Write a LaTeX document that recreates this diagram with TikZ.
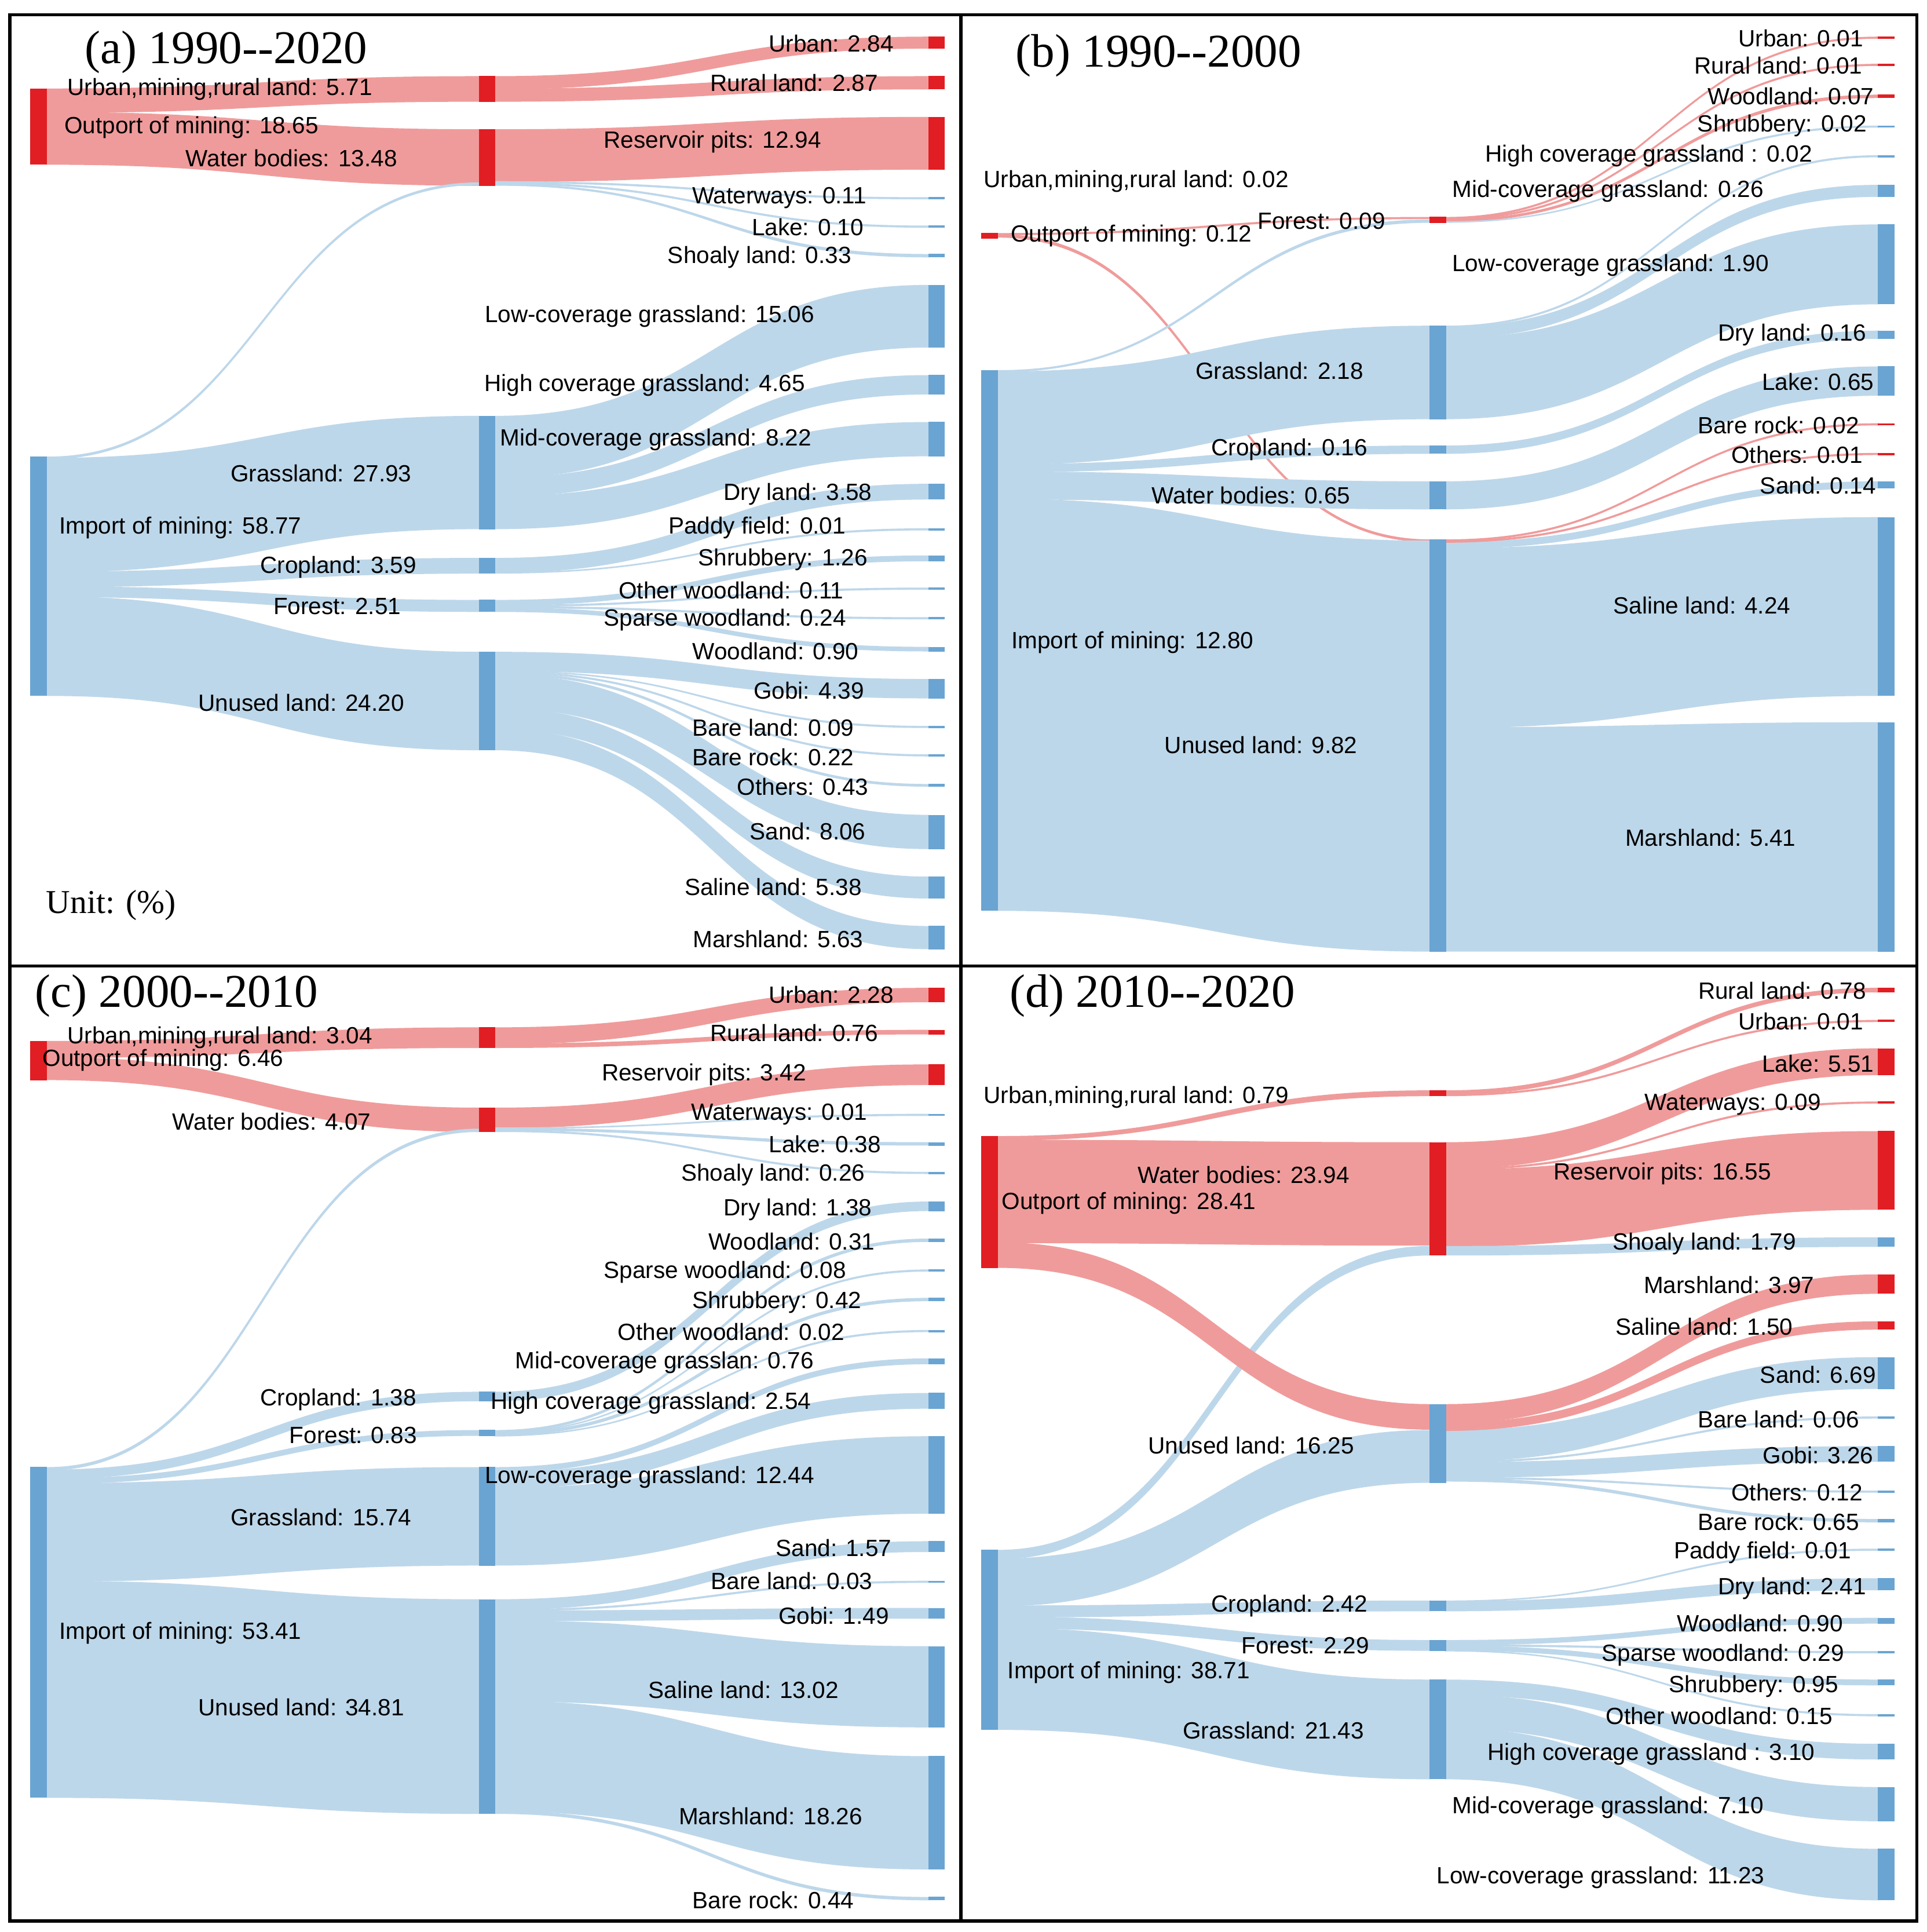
\documentclass[tikz,border=0pt]{standalone}
\usepackage{fontspec}
\setmainfont{Liberation Sans}
\newfontfamily\tnr{Liberation Serif}
\definecolor{lb}{RGB}{189,215,234}
\definecolor{db}{RGB}{106,164,210}
\definecolor{lr}{RGB}{240,155,155}
\definecolor{dr}{RGB}{225,30,35}
\tikzset{R/.style={fill=lr,draw=lr,line width=0.7},B/.style={fill=lb,draw=lb,line width=0.7},
 RB/.style={fill=dr,draw=dr,line width=0.8},BB/.style={fill=db,draw=db,line width=0.8},
 lab/.style={font=\fontsize{19}{21}\selectfont,inner sep=0pt,anchor=center},
 ttl/.style={font=\tnr\fontsize{38}{40}\selectfont,inner sep=0pt,anchor=center}}
\newcommand\fl[7]{\pgfmathsetmacro\xm{(#1+#4)/2}\path[#7] (#1,#2) .. controls (\xm,#2) and (\xm,#5) .. (#4,#5) -- (#4,#6) .. controls (\xm,#6) and (\xm,#3) .. (#1,#3) -- cycle;}
\newcommand\bx[4]{\path[#4] (#1,#2) rectangle (#1+12.5,#3);}
\newcommand\lb[4]{\node[lab] (#1) at (#2,#3) {#4};}
\begin{document}
\begin{tikzpicture}[x=1pt,y=-1pt]
\useasboundingbox[fill=white] (0,0) rectangle (1560,1564);
% ================= (a)
\fl{38}{72}{91}{388}{62}{82}{R}
\fl{38}{91}{133}{388}{105}{150}{R}
\fl{38}{370}{371.5}{388}{148}{149.5}{B}
\fl{38}{371}{463}{388}{337}{428}{B}
\fl{38}{463}{475}{388}{452}{464}{B}
\fl{38}{475}{483}{388}{486}{495}{B}
\fl{38}{483}{563}{388}{528}{607}{B}
\fl{401}{62}{72}{752}{30}{39}{R}
\fl{401}{72}{82}{752}{62}{72}{R}
\fl{401}{105}{147}{752}{95}{137}{R}
\fl{401}{147}{148}{752}{160}{161}{B}
\fl{401}{148}{149}{752}{183}{184}{B}
\fl{401}{149}{150}{752}{206}{208}{B}
\fl{401}{337}{387}{752}{231}{281}{B}
\fl{401}{387}{402}{752}{304}{319}{B}
\fl{401}{402}{428}{752}{342}{369}{B}
\fl{401}{452}{463.5}{752}{392}{404}{B}
\fl{401}{463.5}{464}{752}{428}{429}{B}
\fl{401}{486}{490}{752}{450}{454}{B}
\fl{401}{490}{491}{752}{476}{477}{B}
\fl{401}{491}{492}{752}{500}{501}{B}
\fl{401}{492}{495}{752}{524}{527}{B}
\fl{401}{528}{543}{752}{550}{565}{B}
\fl{401}{543}{543.5}{752}{588}{589}{B}
\fl{401}{543.5}{544.5}{752}{611}{612}{B}
\fl{401}{544.5}{546}{752}{635}{636.5}{B}
\fl{401}{546}{573}{752}{660}{687}{B}
\fl{401}{573}{590}{752}{710}{727}{B}
\fl{401}{590}{607}{752}{750}{768}{B}
\bx{25}{72}{133}{RB}\bx{25}{370}{563}{BB}
\bx{388}{62}{82}{RB}\bx{388}{105}{150}{RB}
\bx{388}{337}{428}{BB}\bx{388}{452}{464}{BB}\bx{388}{486}{495}{BB}\bx{388}{528}{607}{BB}
\bx{752}{30}{39}{RB}\bx{752}{62}{72}{RB}\bx{752}{95}{137}{RB}
\bx{752}{160}{161}{BB}\bx{752}{183}{184}{BB}\bx{752}{206}{208}{BB}
\bx{752}{231}{281}{BB}\bx{752}{304}{319}{BB}\bx{752}{342}{369}{BB}\bx{752}{392}{404}{BB}
\bx{752}{428}{429}{BB}\bx{752}{450}{454}{BB}\bx{752}{476}{477}{BB}\bx{752}{500}{501}{BB}
\bx{752}{524}{527}{BB}\bx{752}{550}{565}{BB}\bx{752}{588}{589}{BB}\bx{752}{611}{612}{BB}
\bx{752}{635}{636.5}{BB}\bx{752}{660}{687}{BB}\bx{752}{710}{727}{BB}\bx{752}{750}{768}{BB}
\node[ttl] (ta) at (183,42) {(a) 1990--2020};
\node[ttl,font=\tnr\fontsize{27}{29}\selectfont] (unit) at (90,733) {Unit: (\%)};
\lb{a1}{673}{35}{Urban: 2.84}
\lb{a2}{643}{67}{Rural land: 2.87}
\lb{a3}{577}{115}{Reservoir pits: 12.94}
\lb{a4}{631}{160}{Waterways: 0.11}
\lb{a5}{654}{184}{Lake: 0.10}
\lb{a6}{615}{208}{Shoaly land: 0.33}
\lb{a7}{526}{256}{Low-coverage grassland: 15.06}
\lb{a8}{522}{312}{High coverage grassland: 4.65}
\lb{a9}{531}{356}{Mid-coverage grassland: 8.22}
\lb{a10}{646}{400}{Dry land: 3.58}
\lb{a11}{613}{427}{Paddy field: 0.01}
\lb{a12}{634}{453}{Shrubbery: 1.26}
\lb{a13}{592}{478}{Other woodland: 0.11}
\lb{a14}{587}{502}{Sparse woodland: 0.24}
\lb{a15}{628}{527}{Woodland: 0.90}
\lb{a16}{655}{559}{Gobi: 4.39}
\lb{a17}{626}{589}{Bare land: 0.09}
\lb{a18}{626}{613}{Bare rock: 0.22}
\lb{a19}{650}{637}{Others: 0.43}
\lb{a20}{654}{673}{Sand: 8.06}
\lb{a21}{626}{718}{Saline land: 5.38}
\lb{a22}{630}{760}{Marshland: 5.63}
\lb{a23}{178}{72}{Urban,mining,rural land: 5.71}
\lb{a24}{155}{103}{Outport of mining: 18.65}
\lb{a25}{236}{128}{Water bodies: 13.48}
\lb{a26}{260}{383}{Grassland: 27.93}
\lb{a27}{146}{427}{Import of mining: 58.77}
\lb{a28}{274}{459}{Cropland: 3.59}
\lb{a29}{273}{491}{Forest: 2.51}
\lb{a30}{244}{569}{Unused land: 24.20}
% ================= (b)
\fl{808}{189}{190}{1158}{176}{177}{R}
\fl{808}{190}{192}{1158}{437}{438.5}{R}
\fl{808}{300}{301}{1158}{178}{180}{B}
\fl{808}{301}{376}{1158}{264}{339}{B}
\fl{808}{376}{382}{1158}{361}{367}{B}
\fl{808}{382}{404}{1158}{390}{412}{B}
\fl{808}{404}{737}{1158}{438}{770}{B}
\fl{1170}{176}{177}{1521}{30}{31}{R}
\fl{1170}{177}{178}{1521}{52}{53}{R}
\fl{1170}{178}{179.5}{1521}{77}{79}{R}
\fl{1170}{179.5}{180}{1521}{102}{103}{B}
\fl{1170}{264}{265}{1521}{126}{127}{B}
\fl{1170}{265}{274}{1521}{150}{159}{B}
\fl{1170}{274}{339}{1521}{182}{246}{B}
\fl{1170}{361}{367}{1521}{268}{274}{B}
\fl{1170}{390}{412}{1521}{297}{320}{B}
\fl{1170}{439}{444}{1521}{390}{395}{B}
\fl{1170}{444}{589}{1521}{419}{563}{B}
\fl{1170}{589}{770}{1521}{585}{770}{B}
\fl{1170}{437}{438}{1521}{343}{344}{R}
\fl{1170}{438}{439}{1521}{367}{368}{R}
\bx{795}{189}{193}{RB}\bx{795}{300}{737}{BB}
\bx{1158}{176}{180}{RB}\bx{1158}{264}{339}{BB}\bx{1158}{361}{367}{BB}\bx{1158}{390}{412}{BB}\bx{1158}{437}{770}{BB}
\bx{1521}{30}{31}{RB}\bx{1521}{52}{53}{RB}\bx{1521}{77}{79}{RB}\bx{1521}{102}{103}{BB}
\bx{1521}{126}{127}{BB}\bx{1521}{150}{159}{BB}\bx{1521}{182}{246}{BB}\bx{1521}{268}{274}{BB}
\bx{1521}{297}{320}{BB}\bx{1521}{343}{344}{RB}\bx{1521}{367}{368}{RB}\bx{1521}{390}{395}{BB}
\bx{1521}{419}{563}{BB}\bx{1521}{585}{770}{BB}
\node[ttl] (tb) at (938,45) {(b) 1990--2000};
\lb{b1}{1458}{31}{Urban: 0.01}
\lb{b2}{1440}{53}{Rural land: 0.01}
\lb{b3}{1450}{78}{Woodland: 0.07}
\lb{b4}{1443}{102}{Shrubbery: 0.02}
\lb{b5}{1335}{126}{High coverage grassland : 0.02}
\lb{b6}{920}{147}{Urban,mining,rural land: 0.02}
\lb{b7}{1302}{155}{Mid-coverage grassland: 0.26}
\lb{b8}{1070}{179}{Forest: 0.09}
\lb{b9}{916}{191}{Outport of mining: 0.12}
\lb{b10}{1304}{215}{Low-coverage grassland: 1.90}
\lb{b11}{1451}{271}{Dry land: 0.16}
\lb{b12}{1036}{300}{Grassland: 2.18}
\lb{b13}{1472}{309}{Lake: 0.65}
\lb{b14}{1440}{344}{Bare rock: 0.02}
\lb{b15}{1044}{364}{Cropland: 0.16}
\lb{b16}{1455}{368}{Others: 0.01}
\lb{b17}{1472}{393}{Sand: 0.14}
\lb{b18}{1013}{401}{Water bodies: 0.65}
\lb{b19}{1378}{490}{Saline land: 4.24}
\lb{b20}{917}{520}{Import of mining: 12.80}
\lb{b21}{1021}{603}{Unused land: 9.82}
\lb{b22}{1385}{678}{Marshland: 5.41}
% ================= (c)
\fl{38}{843}{856}{388}{832}{848}{R}
\fl{38}{856}{874}{388}{897}{916}{R}
\fl{38}{1188}{1190}{388}{914}{916}{B}
\fl{38}{1190}{1197}{388}{1127}{1134}{B}
\fl{38}{1197}{1201}{388}{1158}{1162}{B}
\fl{38}{1201}{1280}{388}{1188}{1267}{B}
\fl{38}{1280}{1455}{388}{1295}{1468}{B}
\fl{401}{832}{845}{752}{800}{811}{R}
\fl{401}{845}{848}{752}{834}{837}{R}
\fl{401}{897}{913}{752}{862}{878}{R}
\fl{401}{913}{913.5}{752}{902}{903}{B}
\fl{401}{913.5}{915}{752}{925}{927}{B}
\fl{401}{915}{916}{752}{949}{950}{B}
\fl{401}{1127}{1134}{752}{973}{980}{B}
\fl{401}{1158}{1159.5}{752}{1003}{1005}{B}
\fl{401}{1159.5}{1160}{752}{1028}{1029}{B}
\fl{401}{1160}{1162}{752}{1051}{1053}{B}
\fl{401}{1162}{1162.5}{752}{1077}{1078}{B}
\fl{401}{1188}{1192}{752}{1100}{1104}{B}
\fl{401}{1192}{1205}{752}{1128}{1140}{B}
\fl{401}{1205}{1267}{752}{1163}{1225}{B}
\fl{401}{1295}{1303}{752}{1248}{1256}{B}
\fl{401}{1303}{1304}{752}{1280}{1281}{B}
\fl{401}{1304}{1312}{752}{1302}{1310}{B}
\fl{401}{1312}{1377}{752}{1333}{1398}{B}
\fl{401}{1377}{1466}{752}{1422}{1513}{B}
\fl{401}{1466}{1468}{752}{1536}{1538}{B}
\bx{25}{843}{874}{RB}\bx{25}{1188}{1455}{BB}
\bx{388}{832}{848}{RB}\bx{388}{897}{916}{RB}
\bx{388}{1127}{1134}{BB}\bx{388}{1158}{1162}{BB}\bx{388}{1188}{1267}{BB}\bx{388}{1295}{1468}{BB}
\bx{752}{800}{811}{RB}\bx{752}{834}{837}{RB}\bx{752}{862}{878}{RB}
\bx{752}{902}{903}{BB}\bx{752}{925}{927}{BB}\bx{752}{949}{950}{BB}\bx{752}{973}{980}{BB}
\bx{752}{1003}{1005}{BB}\bx{752}{1028}{1029}{BB}\bx{752}{1051}{1053}{BB}\bx{752}{1077}{1078}{BB}
\bx{752}{1100}{1104}{BB}\bx{752}{1128}{1140}{BB}\bx{752}{1163}{1225}{BB}\bx{752}{1248}{1256}{BB}
\bx{752}{1280}{1281}{BB}\bx{752}{1302}{1310}{BB}\bx{752}{1333}{1398}{BB}\bx{752}{1422}{1513}{BB}
\bx{752}{1536}{1538}{BB}
\node[ttl] (tc) at (143,806) {(c) 2000--2010};
\lb{c1}{673}{805}{Urban: 2.28}
\lb{c2}{178}{840}{Urban,mining,rural land: 3.04}
\lb{c3}{643}{836}{Rural land: 0.76}
\lb{c4}{132}{858}{Outport of mining: 6.46}
\lb{c5}{570}{870}{Reservoir pits: 3.42}
\lb{c6}{631}{902}{Waterways: 0.01}
\lb{c7}{220}{908}{Water bodies: 4.07}
\lb{c8}{668}{926}{Lake: 0.38}
\lb{c9}{626}{951}{Shoaly land: 0.26}
\lb{c10}{646}{979}{Dry land: 1.38}
\lb{c11}{641}{1005}{Woodland: 0.31}
\lb{c12}{587}{1030}{Sparse woodland: 0.08}
\lb{c13}{629}{1054}{Shrubbery: 0.42}
\lb{c14}{592}{1078}{Other woodland: 0.02}
\lb{c15}{538}{1103}{Mid-coverage grasslan: 0.76}
\lb{c16}{274}{1133}{Cropland: 1.38}
\lb{c17}{527}{1136}{High coverage grassland: 2.54}
\lb{c18}{286}{1162}{Forest: 0.83}
\lb{c19}{526}{1196}{Low-coverage grassland: 12.44}
\lb{c20}{260}{1228}{Grassland: 15.74}
\lb{c21}{675}{1253}{Sand: 1.57}
\lb{c22}{641}{1280}{Bare land: 0.03}
\lb{c23}{675}{1308}{Gobi: 1.49}
\lb{c24}{146}{1322}{Import of mining: 53.41}
\lb{c25}{602}{1368}{Saline land: 13.02}
\lb{c26}{244}{1382}{Unused land: 34.81}
\lb{c27}{624}{1470}{Marshland: 18.26}
\lb{c28}{626}{1538}{Bare rock: 0.44}
% ================= (d)
\fl{808}{920}{923}{1158}{883}{887}{R}
\fl{808}{923}{1006}{1158}{925}{1008}{R}
\fl{808}{1255}{1262}{1158}{1009}{1016}{B}
\fl{808}{1262}{1300}{1158}{1158}{1200}{B}
\fl{808}{1300}{1309}{1158}{1296}{1304}{B}
\fl{808}{1309}{1318}{1158}{1328}{1336}{B}
\fl{808}{1318}{1400}{1158}{1360}{1440}{B}
\fl{808}{1006}{1026}{1158}{1137}{1157}{R}
\fl{1170}{883}{886}{1521}{800}{803}{R}
\fl{1170}{886}{887}{1521}{826}{827}{R}
\fl{1170}{925}{946}{1521}{849}{870}{R}
\fl{1170}{946}{947}{1521}{892}{893}{R}
\fl{1170}{947}{1009}{1521}{916}{979}{R}
\fl{1170}{1009}{1016}{1521}{1002}{1009}{B}
\fl{1170}{1158}{1183}{1521}{1099}{1124}{B}
\fl{1170}{1183}{1184}{1521}{1147}{1148}{B}
\fl{1170}{1184}{1196}{1521}{1171}{1183}{B}
\fl{1170}{1196}{1197}{1521}{1207}{1208}{B}
\fl{1170}{1197}{1199}{1521}{1230}{1232}{B}
\fl{1170}{1137}{1152}{1521}{1032}{1047}{R}
\fl{1170}{1152}{1158}{1521}{1070}{1076}{R}
\fl{1170}{1296}{1296.5}{1521}{1254}{1255}{B}
\fl{1170}{1296.5}{1304}{1521}{1278}{1287}{B}
\fl{1170}{1328}{1331.5}{1521}{1310}{1314}{B}
\fl{1170}{1331.5}{1332.5}{1521}{1337}{1338}{B}
\fl{1170}{1332.5}{1336}{1521}{1360}{1364}{B}
\fl{1170}{1336}{1336.5}{1521}{1388}{1389}{B}
\fl{1170}{1360}{1372}{1521}{1412}{1424}{B}
\fl{1170}{1372}{1399}{1521}{1447}{1474}{B}
\fl{1170}{1399}{1440}{1521}{1497}{1538}{B}
\bx{795}{920}{1026}{RB}\bx{795}{1255}{1400}{BB}
\bx{1158}{883}{887}{RB}\bx{1158}{925}{1016}{RB}\bx{1158}{1137}{1200}{BB}
\bx{1158}{1296}{1304}{BB}\bx{1158}{1328}{1336}{BB}\bx{1158}{1360}{1440}{BB}
\bx{1521}{800}{803}{RB}\bx{1521}{826}{827}{RB}\bx{1521}{849}{870}{RB}\bx{1521}{892}{893}{RB}
\bx{1521}{916}{979}{RB}\bx{1521}{1002}{1009}{BB}\bx{1521}{1032}{1047}{RB}\bx{1521}{1070}{1076}{RB}
\bx{1521}{1099}{1124}{BB}\bx{1521}{1147}{1148}{BB}\bx{1521}{1171}{1183}{BB}\bx{1521}{1207}{1208}{BB}
\bx{1521}{1230}{1232}{BB}\bx{1521}{1254}{1255}{BB}\bx{1521}{1278}{1287}{BB}\bx{1521}{1310}{1314}{BB}
\bx{1521}{1337}{1338}{BB}\bx{1521}{1360}{1364}{BB}\bx{1521}{1388}{1389}{BB}\bx{1521}{1412}{1424}{BB}
\bx{1521}{1447}{1474}{BB}\bx{1521}{1497}{1538}{BB}
\node[ttl] (td) at (933,806) {(d) 2010--2020};
\lb{d1}{1443}{802}{Rural land: 0.78}
\lb{d2}{1458}{827}{Urban: 0.01}
\lb{d3}{1472}{861}{Lake: 5.51}
\lb{d4}{920}{888}{Urban,mining,rural land: 0.79}
\lb{d5}{1403}{894}{Waterways: 0.09}
\lb{d6}{1007}{951}{Water bodies: 23.94}
\lb{d7}{1346}{950}{Reservoir pits: 16.55}
\lb{d8}{914}{974}{Outport of mining: 28.41}
\lb{d9}{1380}{1007}{Shoaly land: 1.79}
\lb{d10}{1400}{1040}{Marshland: 3.97}
\lb{d11}{1380}{1074}{Saline land: 1.50}
\lb{d12}{1472}{1113}{Sand: 6.69}
\lb{d13}{1440}{1149}{Bare land: 0.06}
\lb{d14}{1013}{1170}{Unused land: 16.25}
\lb{d15}{1472}{1178}{Gobi: 3.26}
\lb{d16}{1455}{1208}{Others: 0.12}
\lb{d17}{1440}{1232}{Bare rock: 0.65}
\lb{d18}{1427}{1257}{Paddy field: 0.01}
\lb{d19}{1451}{1286}{Dry land: 2.41}
\lb{d20}{1044}{1300}{Cropland: 2.42}
\lb{d21}{1425}{1314}{Woodland: 0.90}
\lb{d22}{1057}{1332}{Forest: 2.29}
\lb{d23}{1395}{1340}{Sparse woodland: 0.29}
\lb{d24}{914}{1354}{Import of mining: 38.71}
\lb{d25}{1420}{1365}{Shrubbery: 0.95}
\lb{d26}{1392}{1389}{Other woodland: 0.15}
\lb{d27}{1031}{1401}{Grassland: 21.43}
\lb{d28}{1337}{1420}{High coverage grassland : 3.10}
\lb{d29}{1302}{1463}{Mid-coverage grassland: 7.10}
\lb{d30}{1296}{1520}{Low-coverage grassland: 11.23}
% frame
\draw[line width=2.5] (8,12) rectangle (1552,1555);
\draw[line width=2.5] (778,12) -- (778,1555);
\draw[line width=2.5] (8,782) -- (1552,782);
\end{tikzpicture}
\end{document}
